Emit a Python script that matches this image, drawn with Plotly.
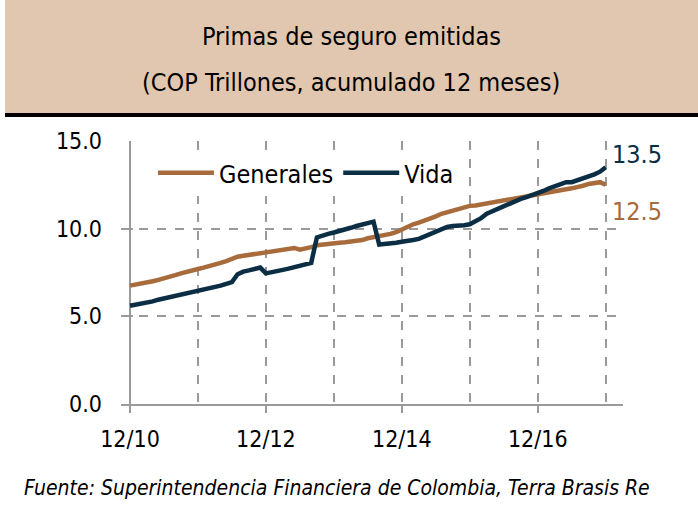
import plotly.graph_objects as go

# ---- data (monthly, Dec-2010 .. Dec-2017), COP trillones, 12m rolling ----
month_idx = list(range(85))
tick_pos = [0, 24, 48, 72]
tick_labels = ["12/10", "12/12", "12/14", "12/16"]

generales = [
    6.75, 6.80, 6.88, 6.92, 7.00, 7.08, 7.15, 7.22, 7.35, 7.45, 7.55, 7.62,
    7.70, 7.78, 7.85, 7.95, 8.05, 8.15, 8.30, 8.40, 8.45, 8.50, 8.55, 8.60,
    8.62, 8.65, 8.70, 8.78, 8.85, 8.90, 8.80, 8.85, 8.95, 9.05, 9.10, 9.12,
    9.15, 9.20, 9.22, 9.25, 9.30, 9.35, 9.45, 9.50, 9.55, 9.62, 9.70, 9.80,
    9.95, 10.15, 10.25, 10.35, 10.45, 10.55, 10.70, 10.85, 10.95, 11.00, 11.10, 11.20,
    11.30, 11.32, 11.38, 11.45, 11.50, 11.58, 11.65, 11.70, 11.75, 11.80, 11.85, 11.92,
    12.00, 12.05, 12.10, 12.15, 12.20, 12.25, 12.30, 12.35, 12.45, 12.55, 12.60, 12.65,
    12.50,
]
vida = [
    5.60, 5.65, 5.72, 5.78, 5.85, 5.95, 6.02, 6.10, 6.20, 6.25, 6.30, 6.35,
    6.42, 6.50, 6.60, 6.68, 6.75, 6.85, 6.95, 7.40, 7.55, 7.62, 7.70, 7.78,
    7.45, 7.50, 7.58, 7.65, 7.72, 7.80, 7.88, 7.95, 8.05, 9.50, 9.62, 9.70,
    9.78, 9.85, 9.95, 10.05, 10.15, 10.25, 10.32, 10.40, 9.10, 9.12, 9.18, 9.20,
    9.25, 9.28, 9.35, 9.42, 9.55, 9.70, 9.85, 10.00, 10.10, 10.15, 10.15, 10.20,
    10.25, 10.40, 10.60, 10.85, 11.00, 11.10, 11.30, 11.45, 11.55, 11.70, 11.80, 11.90,
    12.00, 12.15, 12.30, 12.40, 12.55, 12.65, 12.65, 12.75, 12.90, 13.00, 13.10, 13.25,
    13.50,
]

ORANGE = "#A86B3C"
NAVY = "#0B2E45"
GRID = "#9A9A9A"
FONT = "DejaVu Sans Condensed, Liberation Sans, sans-serif"

W, H = 698, 506
L, R, T, B = 121, 75, 141, 102
pw, ph = W - L - R, H - T - B


def px(x):
    return (x - L) / pw


def py(y):
    return (H - B - y) / ph


fig = go.Figure()
fig.add_trace(go.Scatter(x=month_idx, y=generales, mode="lines", name="Generales",
                         line=dict(color=ORANGE, width=4.5)))
fig.add_trace(go.Scatter(x=month_idx, y=vida, mode="lines", name="Vida",
                         line=dict(color=NAVY, width=4.5)))

# end labels
fig.add_annotation(x=month_idx[-1], y=vida[-1], text=f"{vida[-1]:.1f}", showarrow=False,
                   xanchor="left", yanchor="middle", xshift=4, yshift=13,
                   font=dict(family=FONT, size=25, color=NAVY))
fig.add_annotation(x=month_idx[-1], y=generales[-1], text=f"{generales[-1]:.1f}", showarrow=False,
                   xanchor="left", yanchor="middle", xshift=4, yshift=-27,
                   font=dict(family=FONT, size=25, color=ORANGE))

# title box
fig.add_shape(type="rect", xref="paper", yref="paper", x0=px(5), x1=px(698), y0=py(113), y1=py(0),
              fillcolor="#E2C7B0", line=dict(width=0), layer="below")
fig.add_shape(type="rect", xref="paper", yref="paper", x0=px(5), x1=px(698), y0=py(117), y1=py(113),
              fillcolor="#000000", line=dict(width=0), layer="below")
fig.add_annotation(xref="paper", yref="paper", x=px(351), y=py(37), text="Primas de seguro emitidas",
                   showarrow=False, xanchor="center", yanchor="middle",
                   font=dict(family=FONT, size=25, color="#000"))
fig.add_annotation(xref="paper", yref="paper", x=px(351), y=py(82), text="(COP Trillones, acumulado 12 meses)",
                   showarrow=False, xanchor="center", yanchor="middle",
                   font=dict(family=FONT, size=25, color="#000"))
fig.add_annotation(xref="paper", yref="paper", x=px(22), y=py(488),
                   text="<i>Fuente: Superintendencia Financiera de Colombia, Terra Brasis Re</i>",
                   showarrow=False, xanchor="left", yanchor="middle",
                   font=dict(family=FONT, size=21, color="#000"))

fig.update_layout(
    width=W, height=H,
    margin=dict(l=L, r=R, t=T, b=B, pad=0, autoexpand=False),
    paper_bgcolor="white", plot_bgcolor="white",
    font=dict(family=FONT, size=23, color="#000"),
    showlegend=True,
    legend=dict(orientation="h", x=px(153), y=py(150), xanchor="left", yanchor="top",
                bgcolor="white", borderwidth=0, font=dict(family=FONT, size=25, color="#000"),
                itemwidth=56, tracegroupgap=0),
)
fig.update_xaxes(
    range=[-1.589, 87.055], tickmode="array", tickvals=tick_pos, ticktext=tick_labels,
    showgrid=True, gridcolor=GRID, griddash="dash", gridwidth=1.5,
    minor=dict(tickmode="linear", tick0=0, dtick=12, showgrid=True, gridcolor=GRID,
               griddash="dash", gridwidth=1.5, ticks=""),
    showline=True, linecolor=GRID, linewidth=1.5,
    ticks="outside", ticklen=7, tickcolor=GRID, tickwidth=1.5,
    ticklabelstandoff=7,
    zeroline=True, zerolinecolor=GRID, zerolinewidth=1.5,
    tickfont=dict(family=FONT, size=23, color="#000"), fixedrange=True,
)
fig.update_yaxes(
    range=[0, 15], tickmode="array", tickvals=[0, 5, 10, 15],
    ticktext=["0.0", "5.0", "10.0", "15.0"],
    showgrid=True, gridcolor=GRID, griddash="dash", gridwidth=1.5,
    showline=False, zeroline=False,
    ticks="inside", ticklen=12, tickcolor=GRID, tickwidth=1.5,
    ticklabelstandoff=18,
    tickfont=dict(family=FONT, size=23, color="#000"), fixedrange=True,
)

fig.write_html("out.html", config={"displayModeBar": False},
               post_script="document.body.style.margin='0px';document.body.style.overflow='hidden';")
